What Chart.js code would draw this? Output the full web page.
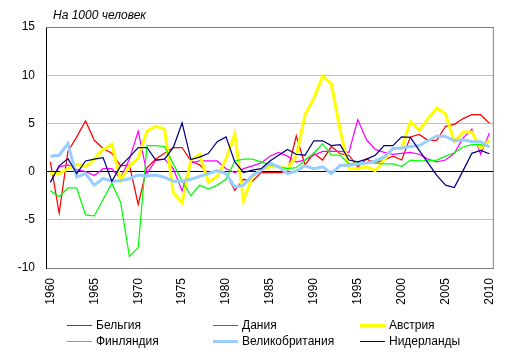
<!DOCTYPE html>
<html><head><meta charset="utf-8">
<script src="https://cdn.jsdelivr.net/npm/chart.js@4"></script>
<style>
html,body{margin:0;padding:0;background:#fff;}
#wrap{position:relative;width:514px;height:356px;font-family:"Liberation Sans",Arial,sans-serif;color:#000;}
canvas{position:absolute;left:0;top:0;}
#title{position:absolute;left:53px;top:8px;font-size:12px;line-height:14px;font-style:italic;white-space:nowrap;}
#legend{position:absolute;left:67px;top:317px;display:grid;grid-template-columns:146px 147px 140px;}
.item{display:flex;align-items:center;height:16px;font-size:12px;white-space:nowrap;}
.sw{width:25px;margin-right:4px;}
</style></head>
<body>
<div id="wrap">
<canvas id="c" width="514" height="356"></canvas>
<div id="title">На 1000 человек</div>
<div id="legend"></div>
</div>
<script>
const years = ['1960','1961','1962','1963','1964','1965','1966','1967','1968','1969',
 '1970','1971','1972','1973','1974','1975','1976','1977','1978','1979',
 '1980','1981','1982','1983','1984','1985','1986','1987','1988','1989',
 '1990','1991','1992','1993','1994','1995','1996','1997','1998','1999',
 '2000','2001','2002','2003','2004','2005','2006','2007','2008','2009','2010'];
const tickLabels = ['1960','1965','1970','1975','1980','1985','1990','1995','2000','2005','2010'];
const yTicks = [-10,-5,0,5,10,15];

const belgium = [1.0,-4.3,2.1,3.6,5.25,3.25,2.4,1.9,0.6,0.7,
 -3.4,0.4,1.3,1.9,2.5,2.5,1.1,0.7,-0.2,0.1,
 -0.2,-1.95,-0.8,-1.0,-0.1,-0.1,-0.1,0.0,3.7,0.7,
 1.9,1.2,2.6,1.85,1.7,0.5,1.3,0.9,1.2,1.6,
 1.2,3.6,3.85,3.25,3.25,4.7,4.9,5.5,5.9,5.9,5.0];
const denmark = [-1.1,0.5,0.7,0.2,0.0,-0.4,0.3,0.3,-0.7,1.3,
 4.2,-0.2,1.2,1.3,0.3,-2.0,0.9,1.1,1.1,1.1,
 0.3,-0.1,0.3,0.6,0.9,1.6,2.0,1.6,1.0,1.2,
 1.7,2.1,2.1,2.1,2.0,5.4,3.3,2.3,2.0,1.8,
 1.9,2.0,1.8,1.3,1.0,1.2,1.9,3.5,4.4,1.8,4.0];
const austria = [-0.2,-0.2,0.3,0.75,0.5,1.3,2.3,2.8,-0.9,0.6,
 1.4,4.2,4.7,4.4,-2.2,-3.2,1.2,1.8,-1.1,-0.5,
 1.3,3.9,-3.0,-0.5,0.2,0.5,0.5,0.3,1.6,5.9,
 7.6,9.9,9.1,4.3,0.3,0.3,0.5,0.1,1.2,2.4,
 2.4,5.2,4.3,5.5,6.6,6.0,3.1,4.1,4.1,2.4,3.3];
const finland = [-2.0,-2.6,-1.7,-1.7,-4.5,-4.6,-2.9,-1.2,-3.2,-8.8,
 -7.9,2.7,2.7,2.6,0.8,-1.0,-2.5,-1.4,-1.8,-1.4,
 -0.8,1.1,1.3,1.3,1.0,0.7,0.5,0.3,0.4,1.2,
 1.9,2.9,1.7,1.7,0.8,0.9,0.9,0.9,0.8,0.8,
 0.55,1.2,1.1,1.1,1.2,1.6,1.95,2.55,2.8,2.8,2.6];
const uk = [1.6,1.7,2.9,-0.55,-0.2,-1.4,-0.7,-1.0,-0.95,-0.75,
 -0.35,-0.45,-0.35,-0.6,-1.0,-1.0,-0.8,-0.5,-0.2,0.1,
 -0.2,-1.6,-1.4,-0.4,0.1,0.9,0.5,-0.2,0.05,0.6,
 0.3,0.5,-0.2,0.65,0.65,0.8,0.9,1.1,1.5,2.4,
 2.45,2.6,2.7,3.2,3.7,3.65,3.2,3.3,3.1,3.1,2.55];
const netherlands = [-1.1,0.6,1.35,-0.2,1.1,1.3,1.45,-1.0,0.6,1.5,
 2.5,2.5,1.2,1.3,2.5,5.05,1.25,1.5,1.9,3.1,
 3.6,1.0,-0.1,0.15,0.3,1.1,1.7,2.3,1.8,1.7,
 3.2,3.2,2.7,2.8,1.2,1.0,1.3,1.7,2.7,2.7,
 3.6,3.55,2.2,0.9,-0.4,-1.4,-1.65,0.1,1.9,2.2,1.85];

const seriesNames = ['Бельгия','Дания','Австрия','Финляндия','Великобритания','Нидерланды'];
const seriesData = [belgium, denmark, austria, finland, uk, netherlands];
const seriesColors = ['#ff0000','#ff00ff','#ffff00','#00ff00','#99ccff','#000080'];
const seriesWidths = [1.25,1.25,3,1.25,3,1.25];

const datasets = seriesNames.map((n,i)=>({
  label:n, data:seriesData[i], borderColor:seriesColors[i], backgroundColor:seriesColors[i],
  borderWidth:seriesWidths[i], pointRadius:0, tension:0, fill:false,
  order: seriesNames.length - i
}));

const frame = {
  id:'frame',
  beforeDatasetsDraw(chart){
    const a = chart.chartArea, c = chart.ctx;
    c.save();
    c.strokeStyle = '#808080'; c.lineWidth = 1;
    c.beginPath();
    c.moveTo(a.left, a.top + 0.5); c.lineTo(a.right - 0.5, a.top + 0.5);
    c.lineTo(a.right - 0.5, a.bottom);
    c.stroke();
    c.restore();
  }
};

const font = {family:'"Liberation Sans", Arial, sans-serif', size:12};

new Chart(document.getElementById('c'), {
  type:'line',
  data:{labels:years, datasets:datasets},
  options:{
    responsive:false, animation:false, devicePixelRatio:1,
    layout:{padding:{top:27,right:16,left:0,bottom:0}},
    plugins:{legend:{display:false}, tooltip:{enabled:false}, title:{display:false}},
    scales:{
      x:{
        offset:true,
        grid:{display:false, drawTicks:false},
        border:{display:true, color:'#808080', width:1},
        ticks:{autoSkip:false, minRotation:90, maxRotation:90, padding:10, color:'#000', font:font,
          callback:function(v,i){ const l = years[i]; return tickLabels.includes(l) ? l : ''; }},
        afterFit(s){ s.height = 88; }
      },
      y:{
        min:-10, max:15,
        afterBuildTicks(s){ s.ticks = yTicks.map(v=>({value:v})); },
        ticks:{padding:11, color:'#000', font:font},
        grid:{drawTicks:false, lineWidth:1,
          color:(c)=> c.tick && c.tick.value === 0 ? '#000000' : ((c.tick && (c.tick.value===15 || c.tick.value===-10)) ? '#808080' : '#c0c0c0')},
        border:{color:'#000', width:1},
        afterFit(s){ s.width = 46; }
      }
    }
  },
  plugins:[frame]
});

const leg = document.getElementById('legend');
seriesNames.forEach((n,i)=>{
  const it = document.createElement('div'); it.className='item';
  const sw = document.createElement('div'); sw.className='sw';
  sw.style.height = (seriesWidths[i] > 2 ? 3 : 1) + 'px';
  sw.style.background = seriesColors[i];
  const t = document.createElement('span'); t.textContent = n;
  it.appendChild(sw); it.appendChild(t); leg.appendChild(it);
});
</script>
</body></html>
